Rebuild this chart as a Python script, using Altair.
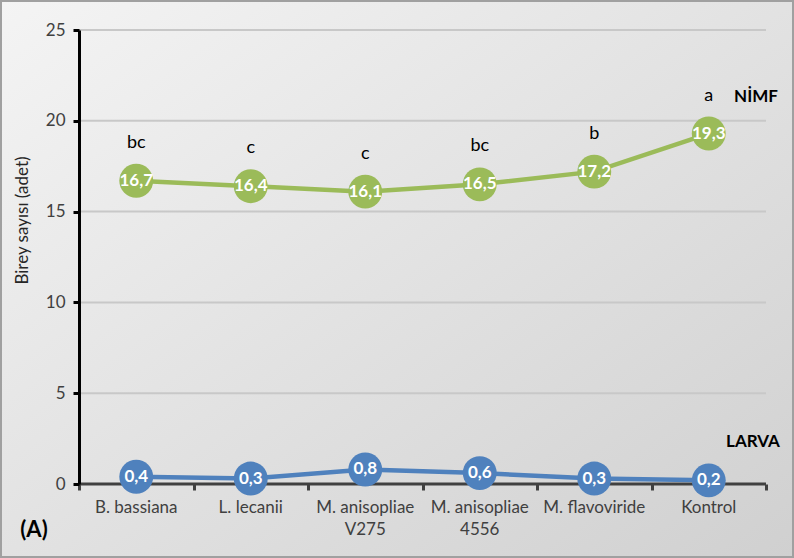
import altair as alt
import pandas as pd

categories = ["B. bassiana", "L. lecanii", "M. anisopliae V275", "M. anisopliae 4556", "M. flavoviride", "Kontrol"]
label_line1 = ["B. bassiana", "L. lecanii", "M. anisopliae", "M. anisopliae", "M. flavoviride", "Kontrol"]
label_line2 = ["", "", "V275", "4556", "", ""]
nimf = [16.7, 16.4, 16.1, 16.5, 17.2, 19.3]
larva = [0.4, 0.3, 0.8, 0.6, 0.3, 0.2]
letters = ["bc", "c", "c", "bc", "b", "a"]
y_ticks = [0, 5, 10, 15, 20, 25]
grid_values = [5, 10, 15, 20, 25]

rows = []
for c, v, l in zip(categories, nimf, letters):
    rows.append({"cat": c, "series": "NIMF", "val": v, "lbl": f"{v:.1f}".replace(".", ","), "letter": l})
for c, v in zip(categories, larva):
    rows.append({"cat": c, "series": "LARVA", "val": v, "lbl": f"{v:.1f}".replace(".", ","), "letter": ""})
df = pd.DataFrame(rows)
cat_df = pd.DataFrame({"cat": categories, "l1": label_line1, "l2": label_line2})

W, H = 687, 454
PL, PT, PR, PB = 79, 30, 28, 74
FONT = "Lato"

color_scale = alt.Scale(domain=["NIMF", "LARVA"], range=["#9bbb59", "#4f81bd"])

bg = alt.Chart(pd.DataFrame({"a": [0]})).mark_rect(
    color=alt.LinearGradient(
        gradient="linear",
        stops=[alt.GradientStop(color="#f4f4f4", offset=0), alt.GradientStop(color="#d0d0d0", offset=1)],
        x1=0, y1=0, x2=1, y2=1,
    ),
    stroke="#a0a0a0", strokeWidth=2,
).encode(
    x=alt.value(-PL + 1), x2=alt.value(W + PR - 1),
    y=alt.value(-PT + 1), y2=alt.value(H + PB - 1),
)

x_enc = alt.X(
    "cat:N", sort=categories,
    scale=alt.Scale(paddingInner=0, paddingOuter=0),
    axis=alt.Axis(
        title=None, labels=False, domain=False, grid=False, zindex=1,
        tickColor="#404040", tickWidth=3, tickSize=6, tickBand="extent",
    ),
)
y_scale = alt.Scale(domain=[0, 25], nice=False)
y_enc = alt.Y(
    "val:Q",
    scale=y_scale,
    axis=alt.Axis(
        values=y_ticks, title="Birey sayısı (adet)", titleFontSize=17, titleFontWeight="normal",
        titleColor="#262626", titleFont=FONT, titleX=-57, titleY=190, titleAngle=270, titleAlign="center",
        titleBaseline="middle", zindex=1, grid=False,
        labelFontSize=17, labelColor="#404040", labelFont=FONT, labelPadding=8,
        domainColor="#000000", domainWidth=3, tickColor="#000000", tickWidth=3, tickSize=6,
    ),
)

grid = alt.Chart(pd.DataFrame({"g": grid_values})).mark_rule(color="#c8c8c8", strokeWidth=2).encode(
    y=alt.Y("g:Q", scale=y_scale), x=alt.value(0), x2=alt.value(W))
zero = alt.Chart(pd.DataFrame({"z": [0]})).mark_rule(color="#404040", strokeWidth=3).encode(
    y=alt.Y("z:Q", scale=y_scale), x=alt.value(0), x2=alt.value(W))

base = alt.Chart(df).encode(x=x_enc, y=y_enc, color=alt.Color("series:N", scale=color_scale, legend=None))

line = base.mark_line(strokeWidth=4.5).encode(detail="series:N")
pts = base.mark_circle(size=1150, opacity=1)
vals = base.mark_text(fontWeight="bold", fontSize=17, font=FONT).encode(
    text="lbl:N", color=alt.value("white"))
lets = base.transform_filter("datum.letter != ''").mark_text(fontSize=18, font=FONT, dy=-38).encode(
    text="letter:N", color=alt.value("black"))

xl1 = alt.Chart(cat_df).mark_text(fontSize=17, font=FONT, color="#404040", baseline="middle").encode(
    x=alt.X("cat:N", sort=categories), y=alt.value(H + 24), text="l1:N")
xl2 = alt.Chart(cat_df).mark_text(fontSize=17, font=FONT, color="#404040", baseline="middle").encode(
    x=alt.X("cat:N", sort=categories), y=alt.value(H + 46), text="l2:N")

nimf_t = alt.Chart(pd.DataFrame({"t": ["NİMF"]})).mark_text(fontWeight="bold", fontSize=17, font=FONT, color="black").encode(
    text="t:N", x=alt.value(677), y=alt.value(67))
larva_t = alt.Chart(pd.DataFrame({"t": ["LARVA"]})).mark_text(fontWeight="bold", fontSize=17, font=FONT, color="black").encode(
    text="t:N", x=alt.value(674), y=alt.value(412))
a_t = alt.Chart(pd.DataFrame({"t": ["(A)"]})).mark_text(fontWeight="bold", fontSize=22, font=FONT, color="black").encode(
    text="t:N", x=alt.value(-45), y=alt.value(500))

chart = alt.layer(bg, grid, zero, line, pts, vals, lets, xl1, xl2, nimf_t, larva_t, a_t).properties(
    width=W, height=H,
    autosize=alt.AutoSizeParams(type="none"),
    padding={"left": PL, "top": PT, "right": PR, "bottom": PB},
    background="#dedede",
).configure_view(stroke=None)

chart.save("out.html", embed_options={"renderer": "svg", "actions": False})
